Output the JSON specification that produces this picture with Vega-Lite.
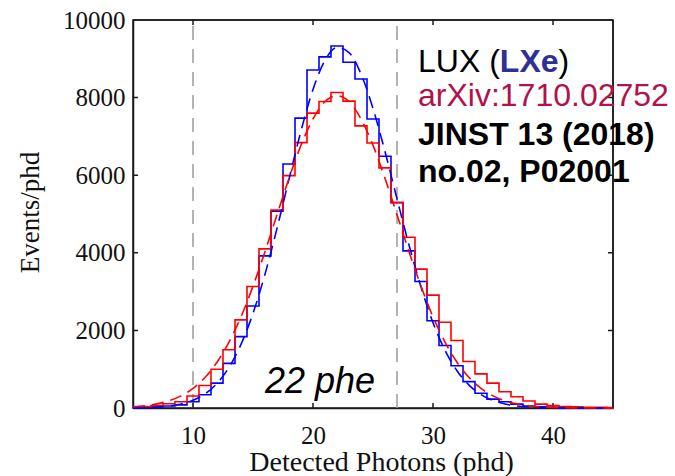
{
  "$schema": "https://vega.github.io/schema/vega-lite/v6.json",
  "width": 480,
  "height": 388,
  "autosize": {"type": "none"},
  "padding": {"left": 133, "top": 20, "right": 62, "bottom": 68},
  "background": "white",
  "config": {
    "view": {"stroke": "#1a1a1a", "strokeWidth": 1.5},
    "axis": {
      "domainColor": "#1a1a1a", "domainWidth": 1.5,
      "ticks": false,
      "grid": false,
      "labelFont": "Liberation Serif", "labelFontSize": 25, "labelColor": "#111",
      "titleFont": "Liberation Serif", "titleFontWeight": "normal", "titleColor": "#111"
    }
  },
  "datasets": {
    "frame": [
      {"x": 10, "x2": 10, "y": 0, "y2": 10000, "k": "guide"},
      {"x": 27, "x2": 27, "y": 0, "y2": 10000, "k": "guide"},
      {"x": 5, "x2": 45, "y": 10000, "y2": 10000, "k": "frame"},
      {"x": 45, "x2": 45, "y": 0, "y2": 10000, "k": "frame"},
      {"x": 10, "x2": 10, "y": 10000, "y2": 9870, "k": "frame"},
      {"x": 20, "x2": 20, "y": 10000, "y2": 9870, "k": "frame"},
      {"x": 30, "x2": 30, "y": 10000, "y2": 9870, "k": "frame"},
      {"x": 40, "x2": 40, "y": 10000, "y2": 9870, "k": "frame"},
      {"x": 10, "x2": 10, "y": 0, "y2": 130, "k": "frame"},
      {"x": 20, "x2": 20, "y": 0, "y2": 130, "k": "frame"},
      {"x": 30, "x2": 30, "y": 0, "y2": 130, "k": "frame"},
      {"x": 40, "x2": 40, "y": 0, "y2": 130, "k": "frame"},
      {"x": 45, "x2": 44.58, "y": 2000, "y2": 2000, "k": "frame"},
      {"x": 45, "x2": 44.58, "y": 4000, "y2": 4000, "k": "frame"},
      {"x": 45, "x2": 44.58, "y": 6000, "y2": 6000, "k": "frame"},
      {"x": 45, "x2": 44.58, "y": 8000, "y2": 8000, "k": "frame"},
      {"x": 5, "x2": 5.42, "y": 2000, "y2": 2000, "k": "frame"},
      {"x": 5, "x2": 5.42, "y": 4000, "y2": 4000, "k": "frame"},
      {"x": 5, "x2": 5.42, "y": 6000, "y2": 6000, "k": "frame"},
      {"x": 5, "x2": 5.42, "y": 8000, "y2": 8000, "k": "frame"}
    ],
    "blueHist": [
      {"x": 5, "y": 10}, {"x": 6, "y": 15}, {"x": 7, "y": 25}, {"x": 8, "y": 50}, {"x": 9, "y": 80},
      {"x": 10, "y": 160}, {"x": 11, "y": 340}, {"x": 12, "y": 640}, {"x": 13, "y": 1150}, {"x": 14, "y": 1840},
      {"x": 15, "y": 2630}, {"x": 16, "y": 3920}, {"x": 17, "y": 5070}, {"x": 18, "y": 6290}, {"x": 19, "y": 7470},
      {"x": 20, "y": 8710}, {"x": 21, "y": 9050}, {"x": 22, "y": 9330}, {"x": 23, "y": 8910}, {"x": 24, "y": 8480},
      {"x": 25, "y": 7450}, {"x": 26, "y": 6490}, {"x": 27, "y": 5290}, {"x": 28, "y": 4050}, {"x": 29, "y": 3260},
      {"x": 30, "y": 2250}, {"x": 31, "y": 1610}, {"x": 32, "y": 1090}, {"x": 33, "y": 680}, {"x": 34, "y": 380},
      {"x": 35, "y": 230}, {"x": 36, "y": 160}, {"x": 37, "y": 100}, {"x": 38, "y": 50}, {"x": 39, "y": 30},
      {"x": 40, "y": 20}, {"x": 41, "y": 10}, {"x": 42, "y": 5}, {"x": 43, "y": 5}, {"x": 44, "y": 0}, {"x": 45, "y": 0}
    ],
    "redHist": [
      {"x": 5, "y": 20}, {"x": 6, "y": 40}, {"x": 7, "y": 60}, {"x": 8, "y": 110}, {"x": 9, "y": 160},
      {"x": 10, "y": 310}, {"x": 11, "y": 580}, {"x": 12, "y": 1000}, {"x": 13, "y": 1500}, {"x": 14, "y": 2270},
      {"x": 15, "y": 3130}, {"x": 16, "y": 4100}, {"x": 17, "y": 5100}, {"x": 18, "y": 5990}, {"x": 19, "y": 6840},
      {"x": 20, "y": 7600}, {"x": 21, "y": 7900}, {"x": 22, "y": 8130}, {"x": 23, "y": 7910}, {"x": 24, "y": 7270},
      {"x": 25, "y": 6830}, {"x": 26, "y": 6190}, {"x": 27, "y": 5300}, {"x": 28, "y": 4400}, {"x": 29, "y": 3580},
      {"x": 30, "y": 2910}, {"x": 31, "y": 2210}, {"x": 32, "y": 1740}, {"x": 33, "y": 1200}, {"x": 34, "y": 880},
      {"x": 35, "y": 640}, {"x": 36, "y": 420}, {"x": 37, "y": 290}, {"x": 38, "y": 180}, {"x": 39, "y": 100},
      {"x": 40, "y": 60}, {"x": 41, "y": 35}, {"x": 42, "y": 30}, {"x": 43, "y": 20}, {"x": 44, "y": 15}, {"x": 45, "y": 10}
    ],
    "blueFit": [
      {"x": 5, "y": 4}, {"x": 6, "y": 11}, {"x": 7, "y": 24}, {"x": 8, "y": 51}, {"x": 9, "y": 103},
      {"x": 10, "y": 199}, {"x": 11, "y": 364}, {"x": 12, "y": 633}, {"x": 13, "y": 1046}, {"x": 14, "y": 1640},
      {"x": 15, "y": 2440}, {"x": 16, "y": 3450}, {"x": 17, "y": 4630}, {"x": 18, "y": 5900}, {"x": 19, "y": 7140},
      {"x": 20, "y": 8210}, {"x": 21, "y": 8960}, {"x": 22, "y": 9290}, {"x": 23, "y": 9160}, {"x": 24, "y": 8610},
      {"x": 25, "y": 7720}, {"x": 26, "y": 6610}, {"x": 27, "y": 5390}, {"x": 28, "y": 4200}, {"x": 29, "y": 3120},
      {"x": 30, "y": 2200}, {"x": 31, "y": 1490}, {"x": 32, "y": 960}, {"x": 33, "y": 590}, {"x": 34, "y": 347},
      {"x": 35, "y": 194}, {"x": 36, "y": 103}, {"x": 37, "y": 53}, {"x": 38, "y": 26}, {"x": 39, "y": 12},
      {"x": 40, "y": 5}, {"x": 41, "y": 2}, {"x": 42, "y": 1}, {"x": 43, "y": 0}, {"x": 44, "y": 0}, {"x": 45, "y": 0}
    ],
    "redFit": [
      {"x": 5, "y": 31}, {"x": 6, "y": 59}, {"x": 7, "y": 106}, {"x": 8, "y": 186}, {"x": 9, "y": 312},
      {"x": 10, "y": 505}, {"x": 11, "y": 786}, {"x": 12, "y": 1180}, {"x": 13, "y": 1700}, {"x": 14, "y": 2350},
      {"x": 15, "y": 3140}, {"x": 16, "y": 4030}, {"x": 17, "y": 4980}, {"x": 18, "y": 5920}, {"x": 19, "y": 6770},
      {"x": 20, "y": 7450}, {"x": 21, "y": 7900}, {"x": 22, "y": 8050}, {"x": 23, "y": 7900}, {"x": 24, "y": 7450},
      {"x": 25, "y": 6770}, {"x": 26, "y": 5920}, {"x": 27, "y": 4980}, {"x": 28, "y": 4030}, {"x": 29, "y": 3140},
      {"x": 30, "y": 2350}, {"x": 31, "y": 1700}, {"x": 32, "y": 1180}, {"x": 33, "y": 786}, {"x": 34, "y": 505},
      {"x": 35, "y": 312}, {"x": 36, "y": 186}, {"x": 37, "y": 106}, {"x": 38, "y": 59}, {"x": 39, "y": 31},
      {"x": 40, "y": 16}, {"x": 41, "y": 8}, {"x": 42, "y": 4}, {"x": 43, "y": 2}, {"x": 44, "y": 1}, {"x": 45, "y": 0}
    ],
    "phe": [{"x": 16.0, "y": 387, "t": "22 phe"}],
    "txtNormal": [
      {"x": 28.75, "y": 8660, "t": "LUX ("},
      {"x": 40.46, "y": 8660, "t": ")"}
    ],
    "txtBlue": [{"x": 35.57, "y": 8660, "t": "LXe"}],
    "txtRed": [{"x": 28.75, "y": 7784, "t": "arXiv:1710.02752"}],
    "txtBold": [
      {"x": 28.75, "y": 6778, "t": "JINST 13 (2018)"},
      {"x": 28.75, "y": 5825, "t": "no.02, P02001"}
    ]
  },
  "encoding": {
    "x": {
      "field": "x", "type": "quantitative",
      "scale": {"domain": [5, 45], "nice": false, "zero": false},
      "axis": {
        "orient": "bottom", "values": [10, 20, 30, 40], "format": "d",
        "labelPadding": 35, "labelBaseline": "alphabetic",
        "title": "Detected Photons (phd)", "titleFontSize": 28,
        "titleX": 248, "titleY": 62, "titleBaseline": "alphabetic", "titleAnchor": "middle", "titleAlign": "center"
      }
    },
    "y": {
      "field": "y", "type": "quantitative",
      "scale": {"domain": [0, 10000], "nice": false},
      "axis": {
        "orient": "left", "values": [0, 2000, 4000, 6000, 8000, 10000], "format": "d",
        "labelPadding": 8,
        "title": "Events/phd", "titleFontSize": 27,
        "titleAngle": -90, "titleX": -103, "titleY": 192, "titleBaseline": "middle", "titleAlign": "center"
      }
    }
  },
  "layer": [
    {
      "data": {"name": "frame"},
      "mark": {"type": "rule", "strokeWidth": 1.5},
      "encoding": {
        "x2": {"field": "x2"},
        "y2": {"field": "y2"},
        "color": {"field": "k", "type": "nominal", "scale": {"domain": ["guide", "frame"], "range": ["#9a9a9a", "#1a1a1a"]}, "legend": null},
        "strokeDash": {"field": "k", "type": "nominal", "scale": {"domain": ["guide", "frame"], "range": [[14, 9], [1, 0]]}, "legend": null}
      }
    },
    {
      "data": {"name": "blueHist"},
      "mark": {"type": "line", "interpolate": "step", "color": "#0000ff", "strokeWidth": 1.6},
      "encoding": {}
    },
    {
      "data": {"name": "redHist"},
      "mark": {"type": "line", "interpolate": "step", "color": "#ff0000", "strokeWidth": 1.6},
      "encoding": {}
    },
    {
      "data": {"name": "blueFit"},
      "mark": {"type": "line", "interpolate": "monotone", "color": "#0000ff", "strokeWidth": 1.6, "strokeDash": [12, 7]},
      "encoding": {}
    },
    {
      "data": {"name": "redFit"},
      "mark": {"type": "line", "interpolate": "monotone", "color": "#ff0000", "strokeWidth": 1.6, "strokeDash": [12, 7]},
      "encoding": {}
    },
    {
      "data": {"name": "phe"},
      "mark": {"type": "text", "font": "Liberation Sans", "fontSize": 36, "fontStyle": "italic", "align": "left", "baseline": "alphabetic", "color": "#000"},
      "encoding": {"text": {"field": "t"}}
    },
    {
      "data": {"name": "txtNormal"},
      "mark": {"type": "text", "font": "Liberation Sans", "fontSize": 32, "align": "left", "baseline": "alphabetic", "color": "#000"},
      "encoding": {"text": {"field": "t"}}
    },
    {
      "data": {"name": "txtBlue"},
      "mark": {"type": "text", "font": "Liberation Sans", "fontSize": 32, "fontWeight": "bold", "align": "left", "baseline": "alphabetic", "color": "#2e3192"},
      "encoding": {"text": {"field": "t"}}
    },
    {
      "data": {"name": "txtRed"},
      "mark": {"type": "text", "font": "Liberation Sans", "fontSize": 32, "align": "left", "baseline": "alphabetic", "color": "#b0124b"},
      "encoding": {"text": {"field": "t"}}
    },
    {
      "data": {"name": "txtBold"},
      "mark": {"type": "text", "font": "Liberation Sans", "fontSize": 32, "fontWeight": "bold", "align": "left", "baseline": "alphabetic", "color": "#000"},
      "encoding": {"text": {"field": "t"}}
    }
  ]
}
